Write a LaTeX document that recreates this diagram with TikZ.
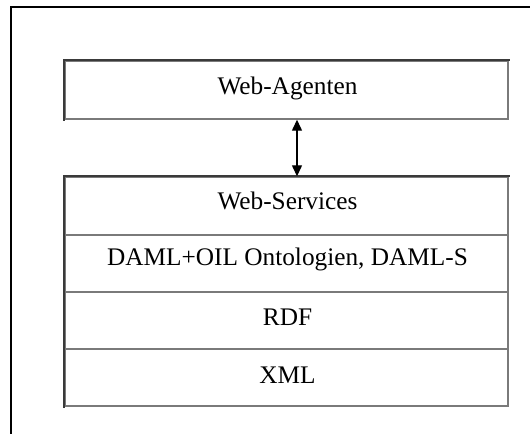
\documentclass[tikz,border=0pt]{standalone}
\usepackage{fontspec}
\setmainfont{Liberation Serif}
\usetikzlibrary{arrows.meta}
\definecolor{edgedark}{HTML}{3A3A3A}
\definecolor{edgelight}{HTML}{7A7A7A}
\tikzset{
  layer/.style={draw=edgelight, line width=1.4pt, rectangle,
    minimum width=443pt, inner sep=0pt},
  caption/.style={anchor=base, inner sep=0pt,
    font=\fontsize{25.3}{30}\selectfont},
  shadeedge/.style={draw=edgedark, line width=2.2pt, line cap=rect},
  frameline/.style={draw=black, line width=1.8pt},
  link/.style={line width=1.3pt, {Triangle[length=11pt,width=10pt]}-{Triangle[length=11pt,width=10pt]}}
}
\begin{document}
\begin{tikzpicture}[x=1pt,y=-1pt]
  \useasboundingbox (0,0) rectangle (530,434);
  % open outer frame: top and left sides only
  \coordinate (ftl) at (11,7);
  \coordinate (ftr) at (530,7);
  \coordinate (fbl) at (11,434);
  \draw[frameline] (ftr) -- (ftl) -- (fbl);

  % agent layer
  \node[layer, minimum height=58pt] (agent) at (286.5,90) {};
  \draw[shadeedge] (agent.north east) -- (agent.north west) -- (agent.south west);
  \node[caption] (agentT) at (287.5,94) {Web-Agenten};

  % protocol stack
  \node[layer, minimum height=58pt] (ws)   at (286.5,206)   {};
  \node[layer, minimum height=57pt] (daml) at (286.5,263.5) {};
  \node[layer, minimum height=57pt] (rdf)  at (286.5,320.5) {};
  \node[layer, minimum height=57pt] (xml)  at (286.5,377.5) {};
  \draw[shadeedge] (ws.north east) -- (ws.north west) -- (xml.south west);
  \node[caption] (wsT)   at (287.5,209) {Web-Services};
  \node[caption] (damlT) at (287.5,265) {DAML+OIL Ontologien, DAML-S};
  \node[caption] (rdfT)  at (287.5,325) {RDF};
  \node[caption] (xmlT)  at (287.5,383) {XML};

  % link between agents and services
  \draw[link] ([xshift=10.5pt]agent.south) -- ([xshift=10.5pt]ws.north);
\end{tikzpicture}
\end{document}
